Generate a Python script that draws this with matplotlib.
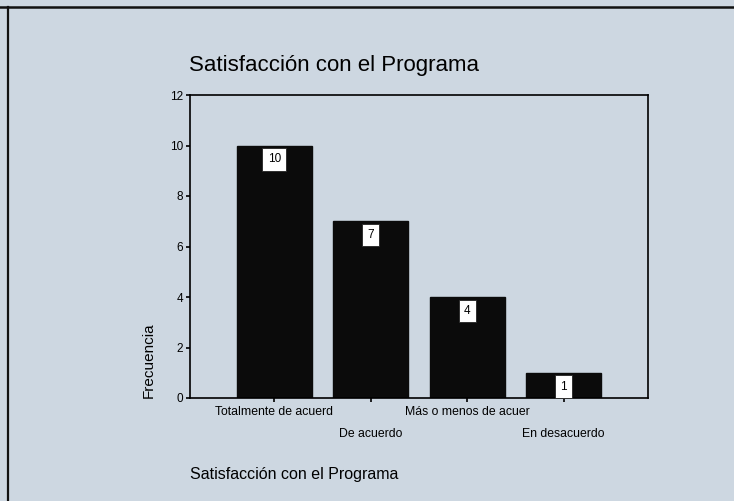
import matplotlib.pyplot as plt
import numpy as np

categorias = ['Totalmente de acuerd', 'De acuerdo', 'Más o menos de acuer', 'En desacuerdo']
frecuencias = [10, 7, 4, 1]
y_ticks = [0, 2, 4, 6, 8, 10, 12]

bg = '#cdd7e1'
fig = plt.figure(figsize=(7.34, 5.01), dpi=100, facecolor=bg)

# marco de la hoja escaneada
fig.add_artist(plt.Line2D([0, 1], [1 - 7/501, 1 - 7/501], color='#111111', lw=1.8))
fig.add_artist(plt.Line2D([8/734, 8/734], [0, 1 - 7/501], color='#111111', lw=1.6))

ax = fig.add_axes([190/734, 1 - 398/501, 458/734, 303/501])
ax.set_facecolor(bg)

x = np.arange(len(categorias))
bars = ax.bar(x, frecuencias, width=0.78, color='#0b0b0b', edgecolor='#0b0b0b')

for xi, v in zip(x, frecuencias):
    ax.annotate(str(v), (xi, v), xytext=(0, -10), textcoords='offset points',
                ha='center', va='center', fontsize=8.5, family='Liberation Sans',
                bbox=dict(boxstyle='square,pad=0.45', fc='white', ec='#222222', lw=0.6))

ax.set_xlim(-0.875, 3.875)
ax.set_ylim(0, 12)
ax.set_yticks(y_ticks)
ax.set_yticklabels([str(t) for t in y_ticks], fontsize=8.5, family='Liberation Sans')
ax.set_xticks(x)
ax.set_xticklabels([])
for s in ax.spines.values():
    s.set_linewidth(1.2)
ax.tick_params(axis='both', direction='out', length=3, width=1.2, pad=2)

# etiquetas escalonadas del eje x
for xi, lab in zip(x, categorias):
    off = -10 if xi % 2 == 0 else -26
    ax.annotate(lab, (xi, 0), xytext=(0, off), textcoords='offset points',
                ha='center', va='center', fontsize=8.8, family='Liberation Sans')

ax.text(-41/458, 0.0, 'Frecuencia', transform=ax.transAxes, rotation=90,
        ha='center', va='bottom', fontsize=11, family='Liberation Sans')
ax.text(0.0, -76/303, 'Satisfacción con el Programa', transform=ax.transAxes,
        ha='left', va='center', fontsize=11.5, family='Liberation Sans')
fig.text(189/734, 1 - 65/501, 'Satisfacción con el Programa', ha='left', va='center',
         fontsize=16, family='Liberation Sans')

plt.savefig('out.png', dpi=100, facecolor=bg)
